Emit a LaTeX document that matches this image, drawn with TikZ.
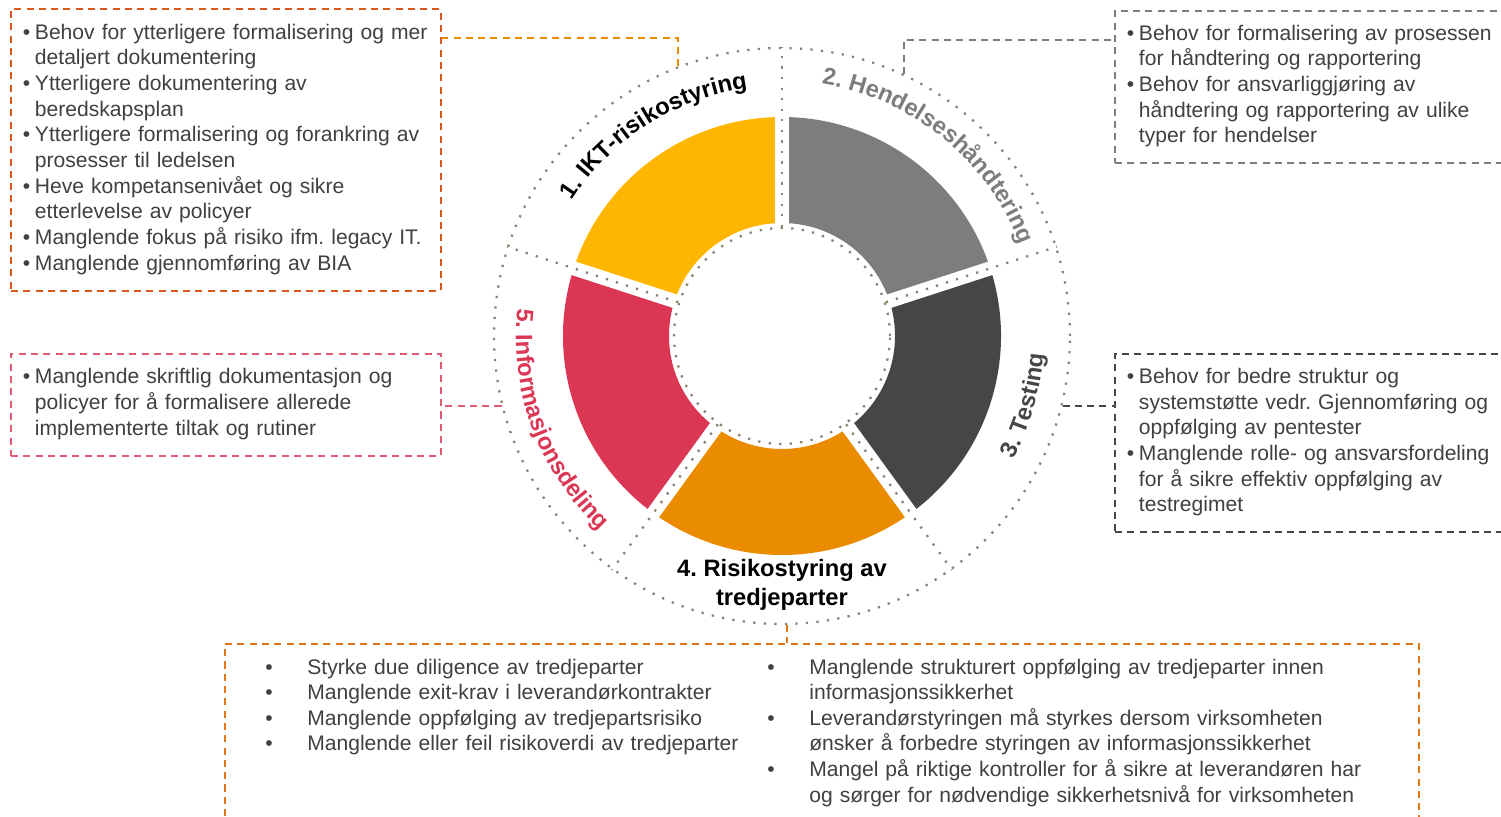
\documentclass[tikz,border=0pt]{standalone}
\usepackage{fontspec}
\setmainfont{Liberation Sans}
\frenchspacing
\usetikzlibrary{calc, decorations.text, positioning}

\definecolor{iktyellow}{HTML}{FFB600}
\definecolor{hendgrey}{HTML}{7D7D7D}
\definecolor{testgrey}{HTML}{464646}
\definecolor{tporange}{HTML}{EB8C00}
\definecolor{infored}{HTML}{DB3654}
\definecolor{dotcol}{HTML}{8C846E}
\definecolor{boxorange}{HTML}{D9581C}
\definecolor{tpboxorange}{HTML}{E2741A}
\definecolor{boxred}{HTML}{E05A72}
\definecolor{txtgrey}{HTML}{404040}

\newcommand{\punkt}[2][0.24cm]{\par\hangindent=#1\hangafter=1\noindent\makebox[#1][l]{\textbullet}#2\par}
\newcommand{\boxpad}{\par\vspace{0.24cm}}
\newcommand{\lblfont}{\fontsize{13.5}{16.5}\selectfont\bfseries}

\begin{document}
\begin{tikzpicture}[x=0.02cm, y=0.02cm,
  dashbox/.style={rectangle, anchor=north west, line width=1.1pt, dash pattern=on 4pt off 3pt},
  infobox/.style={dashbox, align=left, inner xsep=0.24cm, inner ysep=0pt, text=txtgrey, font=\fontsize{12}{14.6}\selectfont, execute at end node=\boxpad},
  coltext/.style={anchor=north west, align=left, inner sep=0pt, text=txtgrey, font=\fontsize{12}{14.6}\selectfont},
  link/.style={line width=1.1pt, dash pattern=on 4pt off 3pt},
  dots/.style={draw=dotcol, line width=1.3pt, line cap=butt, dash pattern=on 1.3pt off 4.7pt},
  seglabel/.style={font=\lblfont, align=center}]
\useasboundingbox (0,0) rectangle (1501,-817);

\coordinate (c) at (782,-336);

% ring
\foreach \a/\col in {90/iktyellow, 18/hendgrey, -54/testgrey, -126/tporange, 162/infored}
  \fill[\col] ($(c)+(\a:219)$) arc[start angle=\a, end angle=\a+72, radius=219] -- ($(c)+(\a+72:113)$) arc[start angle=\a+72, end angle=\a, radius=113] -- cycle;
\foreach \a in {90,18,-54,-126,162}
  \draw[white, line width=0.28cm] ($(c)+(\a:100)$) -- ($(c)+(\a:235)$);

\node[circle, dots, minimum size=11.52cm, inner sep=0pt] (ring) at (c) {};
\node[circle, dots, minimum size=4.32cm, inner sep=0pt] (hub) at (c) {};
\foreach \a in {90,18,306,234,162}
  \draw[dots] (hub.\a) -- (ring.\a);

% labels round the ring
\path[decorate, decoration={text along path, text align=center, text={|\lblfont\color{black}|1. IKT-risikostyring}}]
  ($(c)+(154:250)$) arc[start angle=154, end angle=91, radius=250];
\path[decorate, decoration={text along path, text align=center, text={|\lblfont\color{hendgrey}|2. Hendelseshåndtering}}]
  ($(c)+(90:255)$) arc[start angle=90, end angle=12, radius=255];
\path[decorate, decoration={text along path, text align=center, text={|\lblfont\color{testgrey}|3. Testing}}]
  ($(c)+(-46:262)$) arc[start angle=-46, end angle=14, radius=262];
\path[decorate, decoration={text along path, text align=center, text={|\lblfont\color{infored}|5. Informasjonsdeling}}]
  ($(c)+(168:266)$) arc[start angle=168, end angle=233, radius=266];
\node[seglabel] (tp) at (782,-585) {4. Risikostyring av\\tredjeparter};

% findings
\node[infobox, draw=boxorange, text width=8.12cm, minimum height=5.64cm] (ikt) at (10,-8) {%
  \punkt{Behov for ytterligere formalisering og mer\newline detaljert dokumentering}
  \punkt{Ytterligere dokumentering av\newline beredskapsplan}
  \punkt{Ytterligere formalisering og forankring av\newline prosesser til ledelsen}
  \punkt{Heve kompetansenivået og sikre\newline etterlevelse av policyer}
  \punkt{Manglende fokus på risiko ifm. legacy IT.}
  \punkt{Manglende gjennomføring av BIA}};

\node[infobox, draw=hendgrey, text width=7.6cm, minimum height=3.04cm] (hend) at (1114,-10) {%
  \punkt{Behov for formalisering av prosessen\newline for håndtering og rapportering}
  \punkt{Behov for ansvarliggjøring av\newline håndtering og rapportering av ulike\newline typer for hendelser}};

\node[infobox, draw=testgrey, text width=7.6cm, minimum height=3.56cm] (test) at (1114,-353) {%
  \punkt{Behov for bedre struktur og\newline systemstøtte vedr. Gjennomføring og\newline oppfølging av pentester}
  \punkt{Manglende rolle- og ansvarsfordeling\newline for å sikre effektiv oppfølging av\newline testregimet}};

\node[infobox, draw=boxred, text width=8.12cm, minimum height=2.04cm] (info) at (10,-353) {%
  \punkt{Manglende skriftlig dokumentasjon og\newline policyer for å formalisere allerede\newline implementerte tiltak og rutiner}};

\node[dashbox, draw=tpboxorange, minimum width=23.88cm, minimum height=3.8cm] (tpbox) at (224,-643) {};
\node[coltext, text width=9.8cm] (tpleft) at (265,-648) {%
  \punkt[0.84cm]{Styrke due diligence av tredjeparter}
  \punkt[0.84cm]{Manglende exit-krav i leverandørkontrakter}
  \punkt[0.84cm]{Manglende oppfølging av tredjepartsrisiko}
  \punkt[0.84cm]{Manglende eller feil risikoverdi av tredjeparter}};
\node[coltext, text width=12.9cm] (tpright) at (767,-648) {%
  \punkt[0.84cm]{Manglende strukturert oppfølging av tredjeparter innen\newline informasjonssikkerhet}
  \punkt[0.84cm]{Leverandørstyringen må styrkes dersom virksomheten\newline ønsker å forbedre styringen av informasjonssikkerhet}
  \punkt[0.84cm]{Mangel på riktige kontroller for å sikre at leverandøren har\newline og sørger for nødvendige sikkerhetsnivå for virksomheten}};

% links
\draw[link, tporange] (ring.111) |- (ikt.east |- 0,-38);
\draw[link, hendgrey] (ring.65) |- (hend.west |- 0,-40);
\draw[link, testgrey] (ring.346) -- (test.west |- ring.346);
\draw[link, boxred] (ring.194) -- (info.east |- ring.194);
\draw[link, tpboxorange] (ring.271) -- (tpbox.north -| ring.271);
\end{tikzpicture}
\end{document}
